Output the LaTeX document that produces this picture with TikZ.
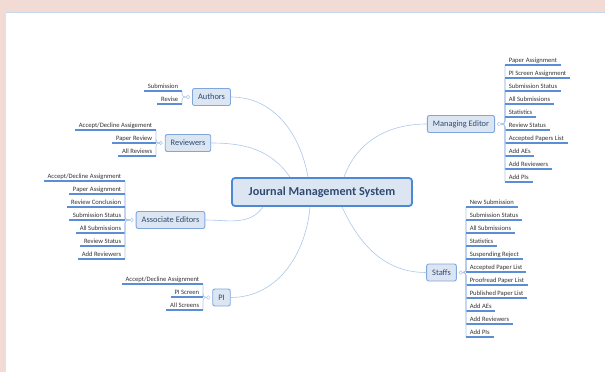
\documentclass[tikz,border=0pt]{standalone}
\usepackage{fontspec}
\setmainfont{Carlito}
\definecolor{pageRose}{HTML}{F2DBD5}
\definecolor{boxFill}{HTML}{DCE6F3}
\definecolor{boxDraw}{HTML}{7FA7DC}
\definecolor{rootDraw}{HTML}{4D88D6}
\definecolor{boxText}{HTML}{2F4A70}
\definecolor{linkBlue}{HTML}{AEC8EA}
\definecolor{underBlue}{HTML}{5A8ED6}

\begin{document}
\begin{tikzpicture}
[x=1pt,y=-1pt,
  rootDecorate/.style={shape=rectangle,rounded corners=3pt,draw=rootDraw,line width=1.8pt,
    fill=boxFill,text=boxText,font=\fontsize{12.2}{14}\selectfont\bfseries,
    minimum width=180pt,minimum height=28pt,inner sep=0pt},
  branchDecorate/.style={shape=rectangle,rounded corners=2pt,draw=boxDraw,line width=0.9pt,
    fill=boxFill,text=boxText,font=\fontsize{8.4}{10}\selectfont,
    inner xsep=5.5pt,minimum height=17pt},
  leafDecorate/.style={inner xsep=3.6pt,inner ysep=1.2pt,text height=4.8pt,text depth=1.5pt,
    text=black!80,font=\fontsize{6.6}{7.5}\selectfont},
  junctionDecorate/.style={shape=circle,inner sep=0pt,minimum size=3.6pt,draw=linkBlue,
    fill=white,line width=0.5pt},
  lineDecorate/.style={draw=linkBlue,line width=0.6pt},
  bracketDecorate/.style={draw=linkBlue,line width=0.6pt,rounded corners=3pt},
  underDecorate/.style={draw=underBlue,line width=1.1pt}]
%% page
\useasboundingbox (0,0) rectangle (605,372);
\fill[pageRose] (0,0) rectangle (605,372);
\fill[white] (6,12) rectangle (605,372);
\draw[linkBlue!70,line width=0.8pt] (6,12.4) -- (605,12.4);
%% main nodes
\node (jms) at (322,192) [rootDecorate] {Journal Management System};
\node (authors) at (211.5,97) [branchDecorate] {Authors};
\node (reviewers) at (188,143) [branchDecorate] {Reviewers};
\node (assoc) at (170.5,220) [branchDecorate] {Associate Editors};
\node (pi) at (221.5,297.5) [branchDecorate] {PI};
\node (manager) at (461,124) [branchDecorate] {Managing Editor};
\node (staffs) at (441.5,272.5) [branchDecorate] {Staffs};
%% branches
\draw[lineDecorate] (authors.east) to[out=0,in=100] ([xshift=-14pt]jms.north);
\draw[lineDecorate] (reviewers.east) to[out=0,in=125] ([xshift=-32pt]jms.north);
\draw[lineDecorate] (manager.west) to[out=180,in=70] ([xshift=22pt]jms.north);
\draw[lineDecorate] (assoc.east) to[out=0,in=235] ([xshift=-59pt]jms.south);
\draw[lineDecorate] (pi.east) to[out=0,in=265] ([xshift=-12pt]jms.south);
\draw[lineDecorate] (staffs.west) to[out=180,in=295] ([xshift=20pt]jms.south);
%% junctions
\node (authorsJ) at ([xshift=-4pt]authors.west) [junctionDecorate] {};
\node (reviewersJ) at ([xshift=-4pt]reviewers.west) [junctionDecorate] {};
\node (assocJ) at ([xshift=-4pt]assoc.west) [junctionDecorate] {};
\node (piJ) at ([xshift=-4pt]pi.west) [junctionDecorate] {};
\node (managerJ) at ([xshift=4pt]manager.east) [junctionDecorate] {};
\node (staffsJ) at ([xshift=4pt]staffs.east) [junctionDecorate] {};
%% leaves on the left
\foreach \txt [count=\i] in {Submission, Revise}
{
  \node (authors\i) at (182,{78+13*\i}) [leafDecorate,anchor=south east] {\txt};
  \draw[bracketDecorate] (authorsJ.west) -| (authors\i.south east);
  \draw[underDecorate] (authors\i.south west) -- (authors\i.south east);
}
\foreach \txt [count=\i] in {Accept/Decline Assigement, Paper Review, All Reviews}
{
  \node (reviewers\i) at (156,{117+13*\i}) [leafDecorate,anchor=south east] {\txt};
  \draw[bracketDecorate] (reviewersJ.west) -| (reviewers\i.south east);
  \draw[underDecorate] (reviewers\i.south west) -- (reviewers\i.south east);
}
\foreach \txt [count=\i] in {Accept/Decline Assignment, Paper Assignment, Review Conclusion,
  Submission Status, All Submissions, Review Status, Add Reviewers}
{
  \node (assoc\i) at (125,{168+13*\i}) [leafDecorate,anchor=south east] {\txt};
  \draw[bracketDecorate] (assocJ.west) -| (assoc\i.south east);
  \draw[underDecorate] (assoc\i.south west) -- (assoc\i.south east);
}
\foreach \txt [count=\i] in {Accept/Decline Assignment, PI Screen, All Screens}
{
  \node (pi\i) at (203,{271+13*\i}) [leafDecorate,anchor=south east] {\txt};
  \draw[bracketDecorate] (piJ.west) -| (pi\i.south east);
  \draw[underDecorate] (pi\i.south west) -- (pi\i.south east);
}
%% leaves on the right
\foreach \txt [count=\i] in {Paper Assignment, PI Screen Assignment, Submission Status,
  All Submissions, Statistics, Review Status, Accepted Papers List, Add AEs,
  Add Reviewers, Add PIs}
{
  \node (manager\i) at (505,{52+13*\i}) [leafDecorate,anchor=south west] {\txt};
  \draw[bracketDecorate] (managerJ.east) -| (manager\i.south west);
  \draw[underDecorate] (manager\i.south west) -- (manager\i.south east);
}
\foreach \txt [count=\i] in {New Submission, Submission Status, All Submissions, Statistics,
  Suspending Reject, Accepted Paper List, Proofread Paper List, Published Paper List,
  Add AEs, Add Reviewers, Add PIs}
{
  \node (staffs\i) at (466,{194+13*\i}) [leafDecorate,anchor=south west] {\txt};
  \draw[bracketDecorate] (staffsJ.east) -| (staffs\i.south west);
  \draw[underDecorate] (staffs\i.south west) -- (staffs\i.south east);
}
\end{tikzpicture}
\end{document}
